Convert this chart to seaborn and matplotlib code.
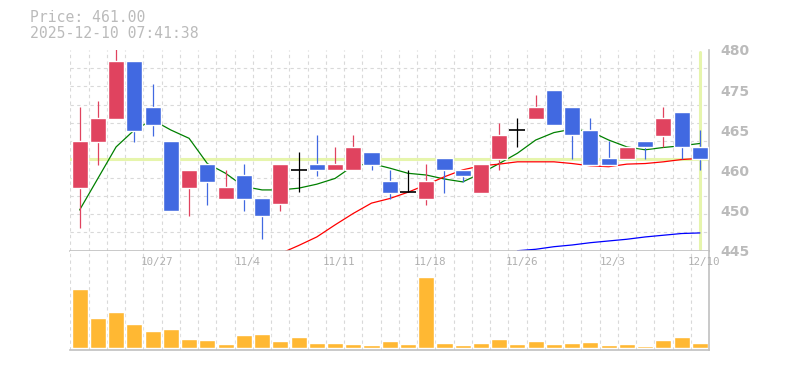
import numpy as np
import pandas as pd
import seaborn as sns
import matplotlib.pyplot as plt

# daily prices, 10/21 - 12/10
dates = ['10/21', '10/22', '10/23', '10/24', '10/27', '10/28', '10/29', '10/30', '10/31',
         '11/4', '11/5', '11/6', '11/7', '11/10', '11/11', '11/12', '11/13', '11/14',
         '11/17', '11/18', '11/19', '11/20', '11/21', '11/25', '11/26', '11/27', '11/28',
         '12/1', '12/2', '12/3', '12/4', '12/5', '12/8', '12/9', '12/10']
opens = [456.0, 464.0, 468.0, 478.1, 470.1, 464.2, 456.0, 460.1, 454.1, 458.2, 454.2, 453.1,
         459.1, 460.1, 459.0, 459.0, 462.2, 457.2, 455.2, 454.1, 461.2, 459.1, 455.1, 461.0,
         466.0, 468.0, 473.0, 470.1, 466.0, 461.2, 461.0, 464.1, 465.0, 469.2, 463.1]
highs = [470.1, 471.1, 481.0, 478.1, 474.1, 464.2, 459.1, 460.1, 459.1, 460.1, 454.2, 460.1,
         462.2, 465.2, 463.1, 465.2, 462.2, 459.1, 459.1, 460.1, 461.2, 459.1, 460.1, 467.2,
         468.2, 472.2, 473.0, 470.1, 468.1, 464.1, 463.1, 464.1, 470.1, 469.2, 466.0]
lows = [449.0, 460.0, 468.0, 464.0, 465.0, 452.0, 451.1, 453.0, 454.1, 452.0, 447.1, 452.0,
        455.2, 458.0, 459.0, 459.0, 459.0, 454.1, 455.2, 453.0, 455.1, 457.0, 455.1, 459.0,
        463.0, 468.0, 467.0, 461.0, 460.0, 460.0, 461.0, 461.0, 463.0, 461.0, 459.0]
closes = [464.2, 468.1, 478.1, 465.9, 467.0, 452.0, 459.1, 457.0, 456.1, 454.1, 451.1, 460.1,
          459.1, 459.0, 460.1, 463.1, 460.0, 455.1, 455.2, 457.2, 459.0, 458.0, 460.1, 465.2,
          466.0, 470.1, 467.0, 465.1, 460.0, 460.0, 463.1, 463.0, 468.1, 463.0, 461.0]
volumes = [59.3, 30.3, 36.3, 24.3, 17.3, 19.3, 9.3, 8.3, 4.3, 13.3, 14.3, 7.3, 11.3, 5.3,
           5.3, 4.3, 3.3, 7.3, 4.3, 71.3, 5.3, 3.3, 5.3, 9.3, 4.3, 7.3, 4.3, 5.3, 6.3, 3.3,
           4.3, 2.3, 8.3, 11.3, 5.3]

# moving averages (None = not drawn)
ma_short = [452.1, 457.6, 463.1, 466.05, 467.8, 466.05, 464.6, 460.2, 458.5, 456.2, 455.6,
            455.6, 455.9, 456.6, 457.6, 459.8, 460.2, 459.4, 458.5, 458.2, 457.5, 457.0,
            458.5, 460.2, 462.0, 464.3, 465.6, 466.2, 465.8, 464.3, 463.1, 462.6, 463.0,
            463.3, 463.7]
ma_mid = [None] * 11 + [444.5, 445.9, 447.4, 449.5, 451.5, 453.3, 454.1, 455.2, 456.5, 457.9,
                        459.1, 459.8, 460.1, 460.5, 460.5, 460.5, 460.2, 459.8, 459.65,
                        460.1, 460.2, 460.5, 460.9, 461.1]
ma_long = [None] * 24 + [445.0, 445.25, 445.7, 446.0, 446.4, 446.7, 447.0, 447.4, 447.7,
                         448.0, 448.1]

last_price = 461.0
stamp = '2025-12-10 07:41:38'
ytick_vals = [480, 473, 466, 459, 452, 445]
ytick_labels = ['480', '475', '465', '460', '450', '445']
label_every = [4, 9, 14, 19, 24, 29, 34]

up_col = '#e0435f'
down_col = '#4169e1'
hl_col = '#e6f5ac'
grid_col = '#d9d9d9'
frame_col = '#c0c0c0'
text_col = '#bbbbbb'

df = pd.DataFrame({'i': np.arange(len(dates)), 'date': dates, 'open': opens, 'high': highs,
                   'low': lows, 'close': closes, 'vol': volumes,
                   'ma5': ma_short, 'ma25': ma_mid, 'ma75': ma_long})
df[['ma5', 'ma25', 'ma75']] = df[['ma5', 'ma25', 'ma75']].astype(float)

sns.set_style('white')
fig = plt.figure(figsize=(7.85, 3.7), dpi=100)
ax = fig.add_axes([0.0898, 0.3224, 0.8134, 0.5425])
axv = fig.add_axes([0.0898, 0.0541, 0.8134, 0.2684])

n = len(df)
for a in (ax, axv):
    a.set_xticks(np.arange(-0.5, n, 1.0), minor=True)
    a.set_xticks([])
    a.grid(which='minor', axis='x', color=grid_col, linestyle=(0, (3, 3)), linewidth=0.8)
    for s in ('top', 'left'):
        a.spines[s].set_visible(False)
    for s in ('bottom', 'right'):
        a.spines[s].set_color(frame_col)
        a.spines[s].set_linewidth(1.2)
    a.tick_params(which='both', length=0)

# price panel
ax.set_ylim(445, 480)
ax.set_yticks(np.linspace(445, 480, 12), minor=True)
ax.grid(which='minor', axis='y', color=grid_col, linestyle=(0, (3, 3)), linewidth=0.8)
ax.axhline(last_price, color=hl_col, lw=2.2, zorder=1)
ax.axvline(n - 1, ymin=0.01, ymax=0.99, color=hl_col, lw=2.2, zorder=1)

sns.lineplot(data=df, x='i', y='ma5', color='#008000', lw=0.9, ax=ax, zorder=2)
sns.lineplot(data=df, x='i', y='ma25', color='#ff0000', lw=0.9, ax=ax, zorder=2)
sns.lineplot(data=df, x='i', y='ma75', color='#0000ff', lw=0.9, ax=ax, zorder=2)

for r in df.itertuples():
    if r.close > r.open:
        col = up_col
    elif r.close < r.open:
        col = down_col
    else:
        col = 'black'
    ax.vlines(r.i, r.low, r.high, color=col, lw=0.9, zorder=3)
    if col == 'black':
        ax.hlines(r.close, r.i - 0.44, r.i + 0.44, color=col, lw=1.2, zorder=3)
    else:
        ax.bar(r.i, abs(r.close - r.open), bottom=min(r.open, r.close), width=0.88,
               color=col, zorder=4)

ax.set_xlim(-0.5, n - 0.5)
ax.yaxis.tick_right()
ax.set_yticks(ytick_vals)
ax.set_yticklabels(ytick_labels)
ax.tick_params(axis='y', pad=8, labelcolor=text_col)
for t in ax.get_yticklabels():
    t.set_fontweight('bold')
    t.set_fontsize(10)
ax.set_xlabel('')
ax.set_ylabel('')

# volume panel
sns.barplot(data=df, x='i', y='vol', color='#ffb833', saturation=1, width=0.88, ax=axv,
            zorder=2)
axv.set_xlim(-0.5, n - 0.5)
axv.set_ylim(-1.7, 97.6)
axv.set_yticks([])
axv.set_xticks(np.arange(-0.5, n, 1.0), minor=True)
axv.set_xticks([])
axv.set_xlabel('')
axv.set_ylabel('')
for i in label_every:
    axv.text(i + 0.22, 0.886, dates[i], transform=axv.get_xaxis_transform(), ha='center',
             va='center', color='#b0b0b0', fontsize=7.8, family='DejaVu Sans Mono')

fig.text(30 / 785, 1 - 18 / 370, 'Price: %.2f' % last_price, color=text_col, fontsize=10.6,
         family='DejaVu Sans Mono', va='center')
fig.text(30 / 785, 1 - 33.3 / 370, stamp, color=text_col, fontsize=10.6,
         family='DejaVu Sans Mono', va='center')

fig.savefig('out.png', dpi=100)
